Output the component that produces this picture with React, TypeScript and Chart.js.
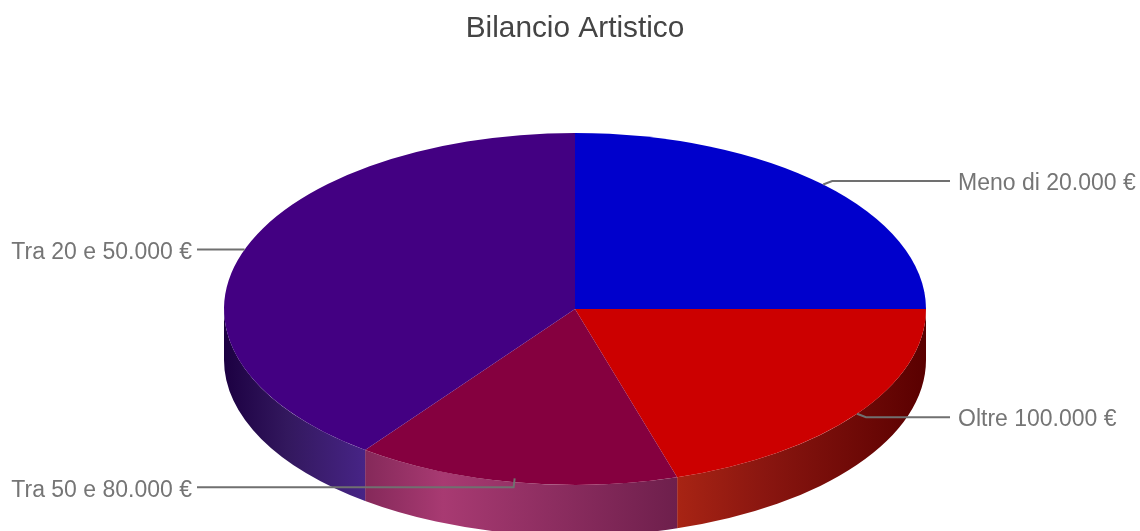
import React, { useEffect, useRef } from "react";
import { Chart, registerables } from "chart.js";

Chart.register(...registerables);

const chartTitle = "Bilancio Artistico";
const categories = ["Meno di 20.000 €", "Oltre 100.000 €", "Tra 50 e 80.000 €", "Tra 20 e 50.000 €"];
const shares = [25, 20.3, 14.9, 39.8];
const topColours = ["#0000cc", "#cc0000", "#85003f", "#430082"];
const wallStops = [
  [[0, "#00006e"], [1, "#00003a"]],
  [[0, "#a82414"], [0.35, "#8a1610"], [1, "#5a0000"]],
  [[0, "#85295a"], [0.25, "#a83a72"], [1, "#6e1f4c"]],
  [[0, "#1c0042"], [0.45, "#33185e"], [1, "#472486"]],
];
// Leader lines: label side, horizontal run relative to the slice anchor,
// knee position, how far the line starts inside the slice, and whether
// it runs straight into the rim with no knee.
const leaderLayout = [
  { side: "right", dy: -3.5, kneeDx: 9, startDy: 0, straight: false },
  { side: "right", dy: 3.5, kneeDx: 9, startDy: 0, straight: false },
  { side: "left", dy: 5, kneeDx: -1, startDy: -4, straight: false },
  { side: "left", dy: -4, kneeDx: 0, startDy: 0, straight: true },
];

const WIDTH = 1140;
const HEIGHT = 531;
const RADIUS_X = 351;
const SQUASH = 176 / 351;
const DEPTH = 51;
const LEFT_RUN_END = 197;
const RIGHT_RUN_END = 950;
const LEFT_TEXT_END = 192;
const RIGHT_TEXT_START = 958;

const tiltedPie = {
  id: "tiltedPie",
  beforeDatasetsDraw(chart: any) {
    const { ctx } = chart;
    const arcs = chart.getDatasetMeta(0).data;
    const cx = arcs[0].x;
    const cy = arcs[0].y;
    const ry = RADIUS_X * SQUASH;

    // Front wall of the disc: only the lower half of the rim is visible.
    arcs.forEach((arc: any, i: number) => {
      const from = Math.max(arc.startAngle, 0);
      const to = Math.min(arc.endAngle, Math.PI);
      if (to <= from) return;
      const xA = cx + RADIUS_X * Math.cos(from);
      const xB = cx + RADIUS_X * Math.cos(to);
      const gradient = ctx.createLinearGradient(Math.min(xA, xB), 0, Math.max(xA, xB), 0);
      wallStops[i].forEach(([stop, colour]: any) => gradient.addColorStop(stop, colour));
      ctx.save();
      ctx.beginPath();
      ctx.ellipse(cx, cy, RADIUS_X, ry, 0, from, to, false);
      ctx.ellipse(cx, cy + DEPTH, RADIUS_X, ry, 0, to, from, true);
      ctx.closePath();
      ctx.fillStyle = gradient;
      ctx.fill();
      ctx.restore();
    });

    // Squash the slices into the disc's top face.
    ctx.save();
    ctx.translate(cx, cy);
    ctx.scale(1, SQUASH);
    ctx.translate(-cx, -cy);
  },
  afterDatasetsDraw(chart: any) {
    const { ctx } = chart;
    ctx.restore();

    const arcs = chart.getDatasetMeta(0).data;
    const ry = RADIUS_X * SQUASH;
    arcs.forEach((arc: any, i: number) => {
      const mid = (arc.startAngle + arc.endAngle) / 2;
      const ax = arc.x + RADIUS_X * Math.cos(mid);
      const ay = arc.y + ry * Math.sin(mid);
      const { side, dy, kneeDx, startDy, straight } = leaderLayout[i];
      const isRight = side === "right";
      const runY = ay + dy;
      const runEnd = isRight ? RIGHT_RUN_END : LEFT_RUN_END;

      ctx.save();
      ctx.strokeStyle = "#707070";
      ctx.lineWidth = 2;
      ctx.beginPath();
      if (straight) {
        // Meet the rim exactly where the horizontal run crosses it.
        const t = (runY - arc.y) / ry;
        const rimX = arc.x + Math.sign(Math.cos(mid)) * RADIUS_X * Math.sqrt(1 - t * t);
        ctx.moveTo(rimX, runY);
      } else {
        ctx.moveTo(ax, ay + startDy);
        ctx.lineTo(ax + kneeDx, runY);
      }
      ctx.lineTo(runEnd, runY);
      ctx.stroke();

      ctx.fillStyle = "#757575";
      ctx.font = '23px "Liberation Sans"';
      ctx.textBaseline = "middle";
      ctx.textAlign = isRight ? "left" : "right";
      ctx.fillText(chart.data.labels[i], isRight ? RIGHT_TEXT_START : LEFT_TEXT_END, runY + 2.8);
      ctx.restore();
    });
  },
};

export default function App() {
  const canvasRef = useRef<HTMLCanvasElement>(null);

  useEffect(() => {
    const chart = new Chart(canvasRef.current!, {
      type: "pie",
      data: {
        labels: categories,
        datasets: [
          {
            data: shares,
            backgroundColor: topColours,
            borderWidth: 0,
            clip: false,
          } as any,
        ],
      },
      options: {
        responsive: false,
        animation: false,
        devicePixelRatio: 1,
        radius: RADIUS_X,
        layout: { padding: { left: 10 } },
        plugins: {
          legend: { display: false },
          tooltip: { enabled: false },
          title: {
            display: true,
            text: chartTitle,
            color: "#444444",
            font: { family: '"Liberation Sans"', size: 29.8, weight: "normal" },
            padding: { top: 11, bottom: 40.2 },
          },
        },
      } as any,
      plugins: [tiltedPie],
    });
    return () => chart.destroy();
  }, []);

  return (
    <div style={{ position: "absolute", left: 0, top: 0, width: WIDTH, height: HEIGHT, overflow: "hidden", background: "#ffffff" }}>
      <canvas ref={canvasRef} width={WIDTH} height={HEIGHT} style={{ display: "block" }} />
    </div>
  );
}
